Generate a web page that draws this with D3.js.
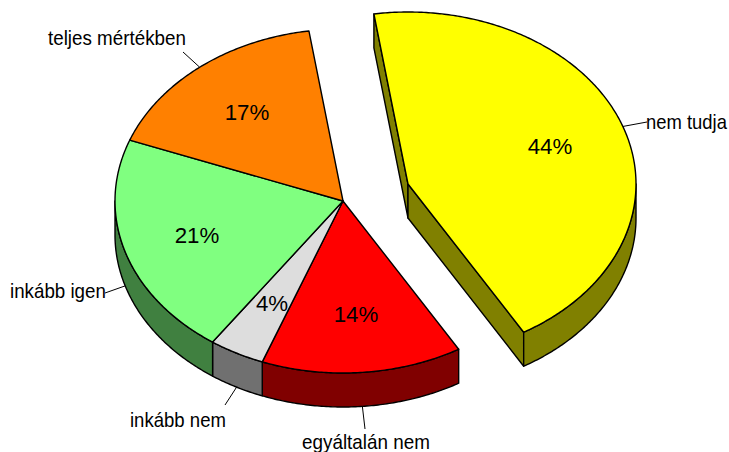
<!DOCTYPE html>
<html><head><meta charset="utf-8">
<style>html,body{margin:0;padding:0;background:#fff}svg{display:block}text{font-family:"Liberation Sans",Arial,sans-serif;fill:#000}</style>
<script src="https://cdn.jsdelivr.net/npm/d3@7"></script></head>
<body><svg id="c" width="729" height="452"></svg>
<script>
const categories = ["nem tudja","egyáltalán nem","inkább nem","inkább igen","teljes mértékben"];
const shares = [43.92,14.23,3.93,21.06,16.86];
const topColors = ["#ffff00","#ff0000","#dddddd","#80ff80","#ff8000"];
const sideColors = ["#808000","#800000","#707070","#408040","#804000"];
const exploded = [1,0,0,0,0];

const RX=228, RY=172, DEPTH=34, START=-8.6*Math.PI/180;
const base={x:343,y:201}, offset={x:65,y:-17};
const pctPos=[[550,154],[356,322],[272,311],[197,243],[247,120]];
const labelPos=[[646,129],[302,449],[130,427],[10,298],[48,45]];
const labelW=[81,128,96,96,138];
const leaderEnd=[[647,122],[365,429],[225,405],[105,293],[183,52]];

const svg=d3.select("#c");
const pie=d3.pie().sort(null).startAngle(START).endAngle(START+2*Math.PI);
const arcs=pie(shares);
const fmt=d=>d3.format(".0f")(d)+"%";
const pt=(c,a,dz=0)=>[c.x+RX*Math.sin(a),c.y-RY*Math.cos(a)+dz];
const line=d3.line();
const sweep=(c,a0,a1,dz=0)=>{
  const n=Math.max(2,Math.ceil(Math.abs(a1-a0)/0.01));
  return d3.range(n+1).map(i=>pt(c,a0+(a1-a0)*i/n,dz));
};
const centers=arcs.map((d,i)=>exploded[i]?{x:base.x+offset.x,y:base.y+offset.y}:base);
const stroke={stroke:"#000","stroke-width":1.4,"stroke-linejoin":"round"};
const style=s=>{Object.entries(stroke).forEach(([k,v])=>s.attr(k,v));return s;};

const H=Math.PI/2, L=3*Math.PI/2;
const gSides=svg.append("g");
arcs.forEach((d,i)=>{
  const c=centers[i];
  const a0=Math.max(d.startAngle,H), a1=Math.min(d.endAngle,L);
  if(exploded[i]){
    const s=pt(c,d.startAngle), e=pt(c,d.endAngle), cc=[c.x,c.y];
    [[s,cc],[cc,e]].forEach(([p,q])=>{
      style(gSides.append("path")).attr("fill",sideColors[i])
       .attr("d",line([p,q,[q[0],q[1]+DEPTH],[p[0],p[1]+DEPTH]])+"Z");
    });
  }
  if(a1>a0){
    const top=sweep(c,a0,a1), bot=sweep(c,a1,a0,DEPTH);
    style(gSides.append("path")).attr("fill",sideColors[i]).attr("d",line(top.concat(bot))+"Z");
  }
});
const gTop=svg.append("g");
arcs.forEach((d,i)=>{
  const c=centers[i];
  style(gTop.append("path")).attr("fill",topColors[i])
    .attr("d",line([[c.x,c.y]].concat(sweep(c,d.startAngle,d.endAngle)))+"Z");
});
arcs.forEach((d,i)=>{
  const c=centers[i], mid=(d.startAngle+d.endAngle)/2;
  const visibleSide=mid>H&&mid<L;
  const p=pt(c,mid,visibleSide?DEPTH:0);
  svg.append("line").attr("x1",p[0]).attr("y1",p[1]).attr("x2",leaderEnd[i][0]).attr("y2",leaderEnd[i][1])
    .attr("stroke","#000").attr("stroke-width",1);
});
svg.append("g").selectAll("text").data(shares).join("text")
  .attr("text-anchor","middle").attr("font-size",23).text(fmt)
  .attr("transform",(d,i)=>`translate(${pctPos[i][0]},${pctPos[i][1]}) scale(0.97,1)`);
svg.append("g").selectAll("text").data(categories).join("text")
  .attr("font-size",20).text(d=>d)
  .each(function(d,i){
    const sx=labelW[i]/this.getComputedTextLength();
    d3.select(this).attr("transform",`translate(${labelPos[i][0]},${labelPos[i][1]}) scale(${sx},1)`);
  });
</script></body></html>
